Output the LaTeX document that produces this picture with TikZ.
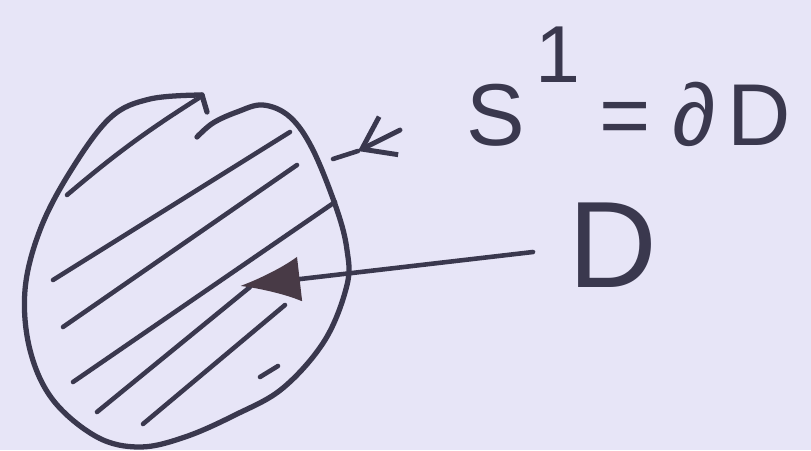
\documentclass[tikz,border=0pt]{standalone}
\usepackage{fontspec}
\setmainfont{Liberation Sans}
\usepackage{xcolor}
\usetikzlibrary{arrows.meta, positioning, calc}

\definecolor{paper}{RGB}{231,229,247}
\definecolor{ink}{RGB}{58,56,78}
\definecolor{inkhead}{RGB}{72,58,70}

\begin{document}
\begin{tikzpicture}[
  x=0.02cm, y=-0.02cm,
  outline/.style={draw=ink, line width=3pt, line cap=round, line join=round},
  hatch/.style={draw=ink, line width=2.6pt, line cap=round},
  label/.style={inner sep=0pt, anchor=base west, text=ink},
  arrow/.style={draw=ink, line width=2.6pt, line cap=round, -{Latex[length=1.2cm, width=0.9cm, color=inkhead]}},
  barb/.style={draw=ink, line width=2.8pt, line cap=round, -{Straight Barb[length=0.6cm, width=0.85cm]}}
]
\fill[paper] (0,0) rectangle (811,450);
\useasboundingbox (0,0) rectangle (811,450);

\draw[outline] plot[smooth, tension=0.6] coordinates {
  (202,95) (150,99) (110,118) (70,172) (40,230) (25,290) (30,350) (53,400)
  (97,437) (140,447) (185,437) (235,415) (283,388) (325,340) (347,285)
  (347,250) (337,210) (313,150) (290,117) (263,105) (237,112) (213,123) (197,137)};
\draw[outline] (202,95) -- (207,112);

\draw[hatch] (67,195) to[bend left=4] (202,96);
\draw[hatch] (53,280) -- (290,132);
\draw[hatch] (63,327) -- (297,165);
\draw[hatch] (73,382) -- (335,202);
\draw[hatch] (97,412) -- (250,287);
\draw[hatch] (143,424) -- (285,305);
\draw[hatch] (260,377) -- (278,366);

\node[label, font=\fontsize{50}{50}\selectfont] (bdlabel) at (466,145)
  {S\kern6pt\raisebox{1.25cm}{\fontsize{46}{46}\selectfont 1}\kern11pt=\kern12pt∂\kern7pt D};
\node[label, font=\fontsize{70}{70}\selectfont] (dlabel) at (568,287) {D};

\coordinate (rimtail) at (400,130);
\coordinate (barbtip) at (358,151);
\coordinate (rim) at (333,159);
\draw[barb] (rimtail) -- (barbtip);
\draw[hatch] (barbtip) -- (rim);

\coordinate (dtail) at (533,252);
\coordinate (dtip) at (240,286);
\draw[arrow] (dtail) -- (dtip);
\end{tikzpicture}
\end{document}
